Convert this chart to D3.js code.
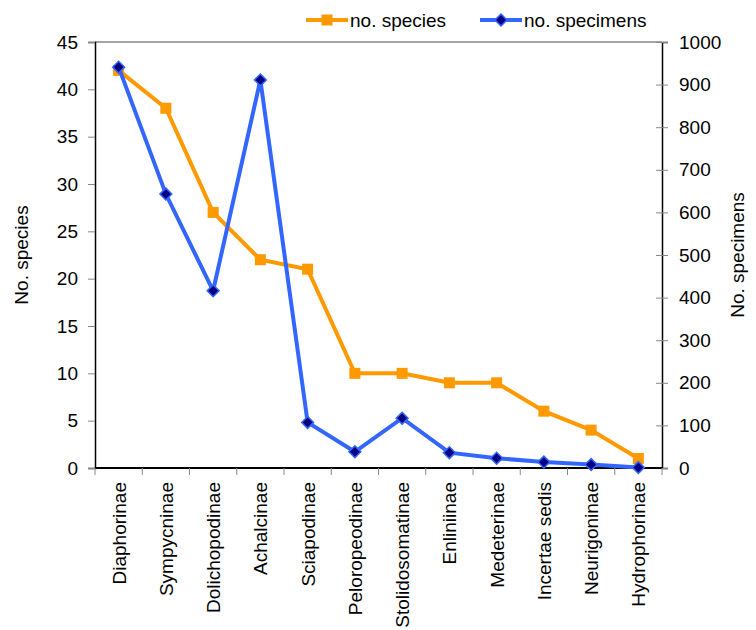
<!DOCTYPE html>
<html>
<head>
<meta charset="utf-8">
<script src="https://cdn.jsdelivr.net/npm/d3@7"></script>
<style>
  body { margin: 0; background: #fff; }
  svg text { font-family: "Liberation Sans", Arial, sans-serif; font-size: 19px; fill: #000; }
</style>
</head>
<body>
<svg id="chart" width="756" height="630"></svg>
<script>
// subfamilies along the x axis
const subfamilies = ["Diaphorinae", "Sympycninae", "Dolichopodinae", "Achalcinae", "Sciapodinae",
  "Peloropeodinae", "Stolidosomatinae", "Enliniinae", "Medeterinae", "Incertae sedis",
  "Neurigoninae", "Hydrophorinae"]
// left axis
const noSpecies = [42, 38, 27, 22, 21, 10, 10, 9, 9, 6, 4, 1]
// right axis
const noSpecimens = [941, 643, 416, 911, 107, 38, 117, 36, 23, 14, 8, 1]
const leftTicks = [0, 5, 10, 15, 20, 25, 30, 35, 40, 45]
const rightTicks = [0, 100, 200, 300, 400, 500, 600, 700, 800, 900, 1000]

const orange = "#FF9900"
const blue = "#3366FF"
const navy = "#000080"

const margin = { top: 42, left: 95, right: 94, bottom: 162 }
const width = 756, height = 630
const innerWidth = width - margin.left - margin.right
const innerHeight = height - margin.top - margin.bottom

const svg = d3.select("#chart")
const g = svg.append("g").attr("transform", `translate(${margin.left},${margin.top})`)

const x = d3.scaleBand().domain(subfamilies).range([0, innerWidth])
const yL = d3.scaleLinear().domain([0, 45]).range([innerHeight, 0])
const yR = d3.scaleLinear().domain([0, 1000]).range([innerHeight, 0])
const cx = d => x(d) + x.bandwidth() / 2

// top border of the plot area
g.append("line").attr("x1", 0).attr("x2", innerWidth).attr("y1", 0).attr("y2", 0)
  .attr("stroke", "#888").attr("stroke-width", 1.5)

// left axis
const axL = g.append("g").call(d3.axisLeft(yL).tickValues(leftTicks).tickSize(7).tickPadding(10))
  .attr("font-size", null).attr("font-family", null)
axL.select(".domain").attr("stroke", "#000").attr("stroke-width", 1.5)
axL.selectAll(".tick line").attr("stroke", "#888")

// right axis
const axR = g.append("g").attr("transform", `translate(${innerWidth},0)`)
  .call(d3.axisRight(yR).tickValues(rightTicks).tickFormat(d3.format("d")).tickSize(6).tickPadding(11))
  .attr("font-size", null).attr("font-family", null)
axR.select(".domain").attr("stroke", "#000").attr("stroke-width", 1.5)
axR.selectAll(".tick line").attr("stroke", "#888").attr("x1", -6)

// bottom axis: ticks between categories
const axB = g.append("g").attr("transform", `translate(0,${innerHeight})`)
axB.append("line").attr("x1", 0).attr("x2", innerWidth).attr("stroke", "#000").attr("stroke-width", 2)
axB.selectAll(".sep")
  .data(d3.range(subfamilies.length + 1))
  .enter().append("line")
  .attr("x1", i => i * x.bandwidth()).attr("x2", i => i * x.bandwidth())
  .attr("y1", 0).attr("y2", 7)
  .attr("stroke", "#888")
axB.selectAll(".cat")
  .data(subfamilies)
  .enter().append("text")
  .attr("transform", d => `translate(${cx(d) + 7},14) rotate(-90)`)
  .attr("text-anchor", "end")
  .text(d => d)

// axis titles
svg.append("text")
  .attr("transform", `translate(28,${margin.top + innerHeight / 2}) rotate(-90)`)
  .attr("text-anchor", "middle")
  .text("No. species")
svg.append("text")
  .attr("transform", `translate(744,${margin.top + innerHeight / 2}) rotate(-90)`)
  .attr("text-anchor", "middle")
  .text("No. specimens")

// species line + squares
g.append("path")
  .datum(noSpecies)
  .attr("fill", "none").attr("stroke", orange).attr("stroke-width", 4)
  .attr("d", d3.line().x((d, i) => cx(subfamilies[i])).y(d => yL(d)))
g.selectAll(".sq")
  .data(noSpecies)
  .enter().append("rect")
  .attr("x", (d, i) => cx(subfamilies[i]) - 5.5)
  .attr("y", d => yL(d) - 5.5)
  .attr("width", 11).attr("height", 11)
  .attr("fill", orange)

// specimens line + diamonds
g.append("path")
  .datum(noSpecimens)
  .attr("fill", "none").attr("stroke", blue).attr("stroke-width", 4)
  .attr("d", d3.line().x((d, i) => cx(subfamilies[i])).y(d => yR(d)))
const diamond = d3.symbol().type(d3.symbolDiamond2).size(90)
g.selectAll(".dm")
  .data(noSpecimens)
  .enter().append("path")
  .attr("d", diamond)
  .attr("transform", (d, i) => `translate(${cx(subfamilies[i])},${yR(d)})`)
  .attr("fill", navy).attr("stroke", blue).attr("stroke-width", 1.5)

// legend
const leg = svg.append("g")
leg.append("line").attr("x1", 306).attr("x2", 348).attr("y1", 20).attr("y2", 20)
  .attr("stroke", orange).attr("stroke-width", 4)
leg.append("rect").attr("x", 321.5).attr("y", 14.5).attr("width", 11).attr("height", 11).attr("fill", orange)
leg.append("text").attr("x", 350).attr("y", 27).text("no. species")
leg.append("line").attr("x1", 480).attr("x2", 522).attr("y1", 20).attr("y2", 20)
  .attr("stroke", blue).attr("stroke-width", 4)
leg.append("path").attr("d", diamond).attr("transform", "translate(501,20)")
  .attr("fill", navy).attr("stroke", blue).attr("stroke-width", 1.5)
leg.append("text").attr("x", 524).attr("y", 27).text("no. specimens")
</script>
</body>
</html>
